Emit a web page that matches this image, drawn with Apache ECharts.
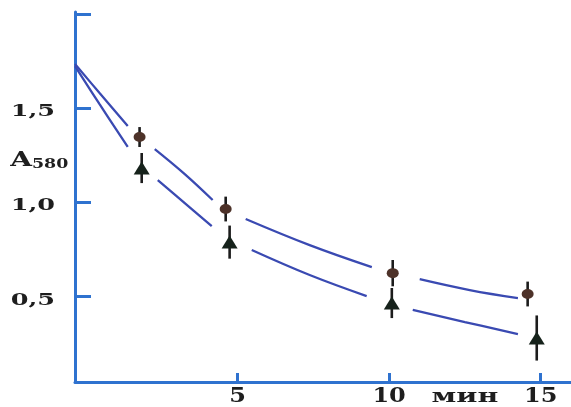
<!DOCTYPE html>
<html>
<head>
<meta charset="utf-8">
<script src="https://cdn.jsdelivr.net/npm/echarts@6/dist/echarts.min.js"></script>
<style>
  html, body { margin: 0; padding: 0; background: #fff; }
  #chart { width: 571px; height: 407px; }
</style>
</head>
<body>
<div id="chart"></div>
<script>
// Absorbance at 580 nm versus time (min), two sample series with error bars.

// Series 1 (round markers)
const circleTime = [1.77, 4.61, 10.12, 14.57];
const circleAbs  = [1.346, 0.963, 0.622, 0.511];
const circleErr  = [0.053, 0.066, 0.07, 0.066];

// Series 2 (triangle markers)
const triTime = [1.84, 4.74, 10.09, 14.87];
const triAbs  = [1.181, 0.787, 0.463, 0.277];
const triErr  = [0.08, 0.088, 0.08, 0.12];

// Fitted decay curves, drawn in pieces that stop short of each marker
const upperCurveTime = [-0.36, 0.45, 1.38, null, 2.27, 3.26, 4.18, null, 5.27, 7.38, 9.43, null, 11.01, 12.66, 14.25];
const upperCurveAbs  = [1.734, 1.580, 1.404, null, 1.282, 1.149, 1.011, null, 0.910, 0.771, 0.654, null, 0.590, 0.532, 0.489];
const lowerCurveTime = [-0.36, 0.45, 1.38, null, 2.37, 3.26, 4.15, null, 5.47, 7.38, 9.26, null, 10.78, 12.50, 14.25];
const lowerCurveAbs  = [1.723, 1.521, 1.293, null, 1.117, 0.995, 0.872, null, 0.745, 0.612, 0.500, null, 0.426, 0.362, 0.298];

// Axis ticks and labels
const yTickValues  = [0.5, 1.0, 1.5, 2.0];
const yLabelValues = [0.5, 1.0, 1.5];
const xTickValues  = [5, 10, 15];
const xUnit = 'мин';
const yTitleMain = 'A';
const yTitleSub  = '580';

const AXIS_BLUE = '#2f72cf';
const CURVE_BLUE = '#3a4ab2';
const TEXT = '#1e1e1e';
const FONT = '"DejaVu Serif", "Liberation Serif", serif';

const X_MIN = -0.36, X_MAX = 16, Y_MIN = 0.043, Y_MAX = 2.011;

const zip = (a, b) => a.map((v, i) => [v, b[i]]);
const zip3 = (a, b, c) => a.map((v, i) => [v, b[i], c[i]]);

const chart = echarts.init(document.getElementById('chart'), null, { renderer: 'canvas' });

function errorBars(params, api) {
  const x = api.value(0), y = api.value(1), e = api.value(2);
  const top = api.coord([x, y + e]);
  const bot = api.coord([x, y - e]);
  return {
    type: 'line',
    shape: { x1: top[0], y1: top[1], x2: bot[0], y2: bot[1] },
    style: { stroke: '#1c1c1c', lineWidth: 2.6 }
  };
}

chart.setOption({
  animation: false,
  backgroundColor: '#fff',
  grid: { left: 75, right: 0, top: 12, bottom: 25, containLabel: false },
  xAxis: {
    type: 'value', min: X_MIN, max: X_MAX,
    axisLine: { onZero: false, lineStyle: { color: AXIS_BLUE, width: 3 } },
    axisTick: { inside: true, length: 9, customValues: xTickValues, lineStyle: { color: AXIS_BLUE, width: 3 } },
    axisLabel: { show: false },
    splitLine: { show: false }
  },
  yAxis: {
    type: 'value', min: Y_MIN, max: Y_MAX,
    axisLine: { show: true, onZero: false, lineStyle: { color: AXIS_BLUE, width: 3 } },
    axisTick: { show: true, inside: true, length: 16, customValues: yTickValues, lineStyle: { color: AXIS_BLUE, width: 3 } },
    axisLabel: { show: false },
    splitLine: { show: false }
  },
  series: [
    {
      type: 'line', data: zip(upperCurveTime, upperCurveAbs), smooth: 0.4, symbol: 'none',
      connectNulls: false, lineStyle: { color: CURVE_BLUE, width: 2.3 }, z: 2
    },
    {
      type: 'line', data: zip(lowerCurveTime, lowerCurveAbs), smooth: 0.4, symbol: 'none',
      connectNulls: false, lineStyle: { color: CURVE_BLUE, width: 2.3 }, z: 2
    },
    { type: 'custom', renderItem: errorBars, data: zip3(circleTime, circleAbs, circleErr), z: 3 },
    { type: 'custom', renderItem: errorBars, data: zip3(triTime, triAbs, triErr), z: 3 },
    {
      type: 'scatter', data: zip(circleTime, circleAbs), symbol: 'circle', symbolSize: [12, 10],
      itemStyle: { color: '#4d3229', opacity: 1 }, z: 4
    },
    {
      type: 'scatter', data: zip(triTime, triAbs), symbol: 'triangle', symbolSize: [16, 13],
      itemStyle: { color: '#16221b', opacity: 1 }, z: 4
    }
  ]
});

// Tick labels and axis titles, drawn as widened serif text
const fmt = v => v.toFixed(1).replace('.', ',');
const graphics = [];

yLabelValues.forEach(v => {
  const p = chart.convertToPixel({ gridIndex: 0 }, [X_MIN, v]);
  graphics.push({
    type: 'text', x: p[0] - 20, y: p[1] + 4, scaleX: 1.5, silent: true,
    style: { text: fmt(v), fill: TEXT, font: 'bold 17px ' + FONT, align: 'right', verticalAlign: 'middle' }
  });
});

xTickValues.forEach(v => {
  const p = chart.convertToPixel({ gridIndex: 0 }, [v, Y_MIN]);
  graphics.push({
    type: 'text', x: p[0], y: p[1] + 15, scaleX: 1.2, silent: true,
    style: { text: String(v), fill: TEXT, font: 'bold 20px ' + FONT, align: 'center', verticalAlign: 'middle' }
  });
});

const unitPos = chart.convertToPixel({ gridIndex: 0 }, [12.5, Y_MIN]);
graphics.push({
  type: 'text', x: unitPos[0], y: unitPos[1] + 15, scaleX: 1.5, silent: true,
  style: { text: xUnit, fill: TEXT, font: 'bold 19px ' + FONT, align: 'center', verticalAlign: 'middle' }
});

const titlePos = chart.convertToPixel({ gridIndex: 0 }, [X_MIN, 1.21]);
graphics.push({
  type: 'text', x: titlePos[0] - 43, y: titlePos[1] - 2, scaleX: 1.4, silent: true,
  style: { text: yTitleMain, fill: TEXT, font: 'bold 20px ' + FONT, align: 'right', verticalAlign: 'middle' }
});
graphics.push({
  type: 'text', x: titlePos[0] - 43, y: titlePos[1] + 2, scaleX: 1.45, silent: true,
  style: { text: yTitleSub, fill: TEXT, font: 'bold 12px ' + FONT, align: 'left', verticalAlign: 'middle' }
});

chart.setOption({ graphic: graphics });
</script>
</body>
</html>
